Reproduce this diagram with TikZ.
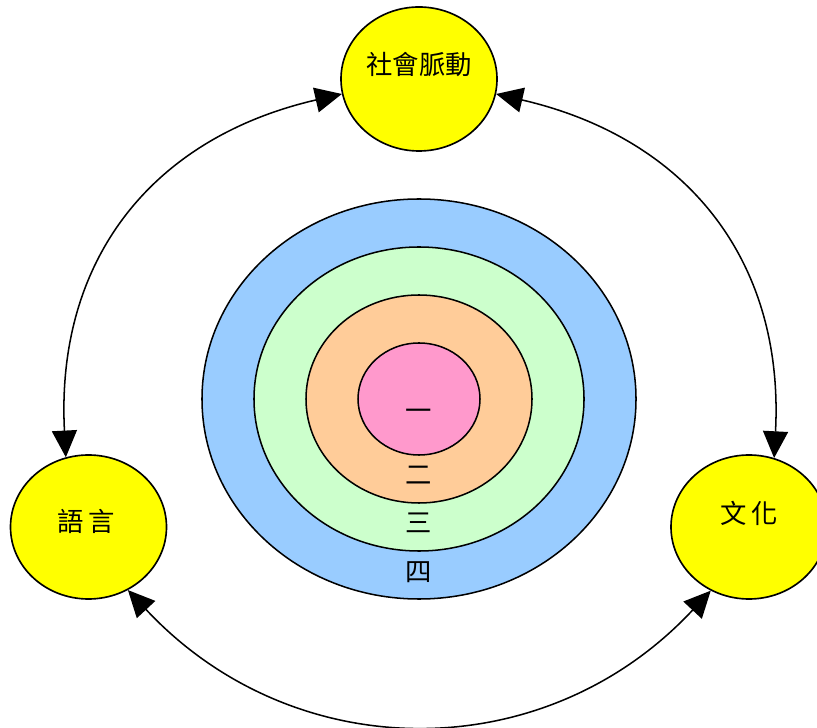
\documentclass[tikz,border=0pt]{standalone}
\usepackage{fontspec}
\newfontfamily\cjk{Noto Sans CJK TC}
\usetikzlibrary{arrows.meta,shapes.geometric}
\definecolor{sunyellow}{HTML}{FFFF00}
\definecolor{skyblue}{HTML}{99CCFF}
\definecolor{palegreen}{HTML}{CCFFCC}
\definecolor{peach}{HTML}{FFCC99}
\definecolor{rosepink}{HTML}{FF99CC}

\begin{document}
\begin{tikzpicture}[x=0.03cm,y=0.03cm,
		bubble/.style={ellipse,draw,line width=1.4pt,fill=sunyellow,inner sep=0pt,
			minimum width=4.68cm,minimum height=4.32cm},
		ring/.style={ellipse,draw,line width=1.3pt,inner sep=0pt},
		word/.style={font=\cjk\fontsize{22.5}{26}\selectfont,inner sep=0pt},
		link/.style={line width=1.3pt,{Triangle[length=0.8cm,width=0.75cm]}-{Triangle[length=0.8cm,width=0.75cm]}}]
	\useasboundingbox (0,0) rectangle (817,727);
	\clip (0,0) rectangle (817,727);
	% concentric rings
	\foreach \n/\w/\h/\c in {4/13.02/12/skyblue,3/9.9/9.12/palegreen,2/6.78/6.24/peach,1/3.66/3.36/rosepink}
	\node[ring,minimum width=\w cm,minimum height=\h cm,fill=\c] (ring\n) at (419,328) {};
	\node[word] (one) at (419,312) {一};
	\node[word] (two) at (419,252) {二};
	\node[word] (three) at (419,204) {三};
	\node[word] (four) at (419,155) {四};
	% outer bubbles
	\node[bubble] (soc) at (419,648) {};
	\node[bubble] (lang) at (88.5,200) {};
	\node[bubble] (cult) at (749,200) {};
	\node[word] (soctext) at (419,662) {社會脈動};
	\node[word] (langtext) at (86,206) {語\,言};
	\node[word] (culttext) at (749,214) {文\,化};
	% links
	\draw[link] (soc.191) to[out=193,in=93,looseness=1.1] (lang.108);
	\draw[link] (soc.349) to[out=-13,in=87,looseness=1.1] (cult.70);
	\draw[link] (lang.302) to[out=-47,in=227,looseness=1.07] (cult.239);
\end{tikzpicture}
\end{document}
